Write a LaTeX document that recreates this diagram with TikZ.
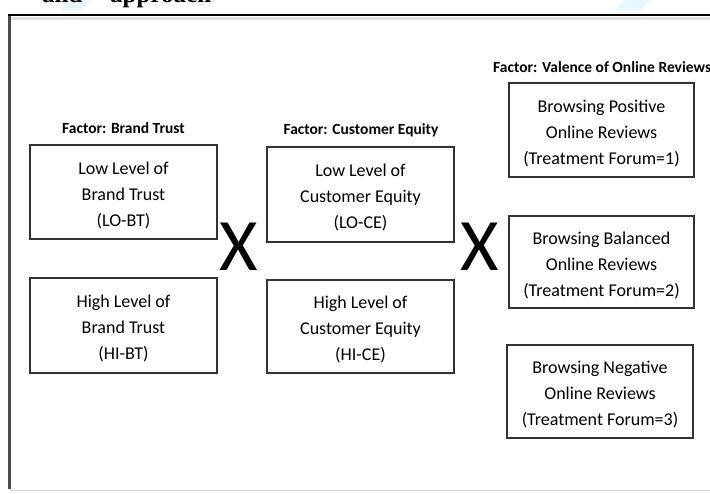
\documentclass[tikz,border=0pt]{standalone}
\usepackage{fontspec}
\setmainfont{Carlito}
\newfontfamily\headfont{Liberation Serif}
\usetikzlibrary{shadows}
% three centred lines, set a little below the box centre
\newcommand\boxlines[1]{\raisebox{-3pt}[\height][\depth]{\begin{tabular}{@{}c@{}}#1\end{tabular}}}
\begin{document}
\begin{tikzpicture}[x=1pt,y=-1pt,
  levelbox/.style={draw=black!80, line width=1.3pt, fill=white,
    font=\fontsize{18}{26}\selectfont, inner sep=0pt,
    drop shadow={shadow xshift=1.2pt, shadow yshift=-1.2pt, opacity=0.35}},
  factorlabel/.style={font=\bfseries\fontsize{15.5}{18}\selectfont, inner sep=0pt},
  cross/.style={font=\fontsize{74}{74}\selectfont, inner sep=0pt},
  heading/.style={font=\headfont\bfseries\fontsize{25}{28}\selectfont, inner sep=0pt, anchor=base west}]
\useasboundingbox (0,0) rectangle (710,493);
\fill[white] (0,0) rectangle (710,493);

% faint watermark strokes behind the heading
\fill[blue!25!cyan!20, opacity=0.5] (70,0) -- (90,0) -- (80,10) -- (60,10) -- cycle;
\fill[blue!25!cyan!20, opacity=0.5] (625,0) -- (650,0) -- (640,10) -- (615,10) -- cycle;

% heading, clipped by the page edge
\begin{scope}
\clip (0,0) rectangle (710,14);
\node[heading] (hA) at (42,2) {and};
\node[heading] (hB) at (110,2) {approach};
\end{scope}

% frame
\fill[black!12] (9,16.5) rectangle (710,20);
\draw[black!70, line width=2.5pt] (9.5,15) -- (9.5,489);
\draw[black!15, line width=0.8pt] (9.5,490) -- (710,490);
\draw[black, line width=2pt] (8,15) -- (710,15);

% factor: brand trust
\node[factorlabel] (fbt) at (123.5,128) {Factor: Brand Trust};
\node[levelbox, minimum width=187pt, minimum height=94pt] (lobt) at (123.5,192)
  {\boxlines{Low Level of\\Brand Trust\\(LO-BT)}};
\node[levelbox, minimum width=187pt, minimum height=95pt] (hibt) at (123.5,325.5)
  {\boxlines{High Level of\\Brand Trust\\(HI-BT)}};

\node[cross] (x1) at (238.5,247) {X};

% factor: customer equity
\node[factorlabel] (fce) at (361,130) {Factor: Customer Equity};
\node[levelbox, minimum width=187pt, minimum height=95pt] (loce) at (360.5,194.5)
  {\boxlines{Low Level of\\Customer Equity\\(LO-CE)}};
\node[levelbox, minimum width=187pt, minimum height=93pt] (hice) at (360.5,326.5)
  {\boxlines{High Level of\\Customer Equity\\(HI-CE)}};

\node[cross] (x2) at (480,247) {X};

% factor: valence of online reviews
\node[factorlabel, anchor=west] (fvr) at (493,67) {Factor: Valence of Online Reviews};
\node[levelbox, minimum width=185pt, minimum height=94pt] (pos) at (601.5,130)
  {\boxlines{Browsing Positive\\Online Reviews\\(Treatment Forum=1)}};
\node[levelbox, minimum width=185pt, minimum height=92pt] (bal) at (601.5,262)
  {\boxlines{Browsing Balanced\\Online Reviews\\(Treatment Forum=2)}};
\node[levelbox, minimum width=186pt, minimum height=93pt] (neg) at (600,391.5)
  {\boxlines{Browsing Negative\\Online Reviews\\(Treatment Forum=3)}};
\end{tikzpicture}
\end{document}
